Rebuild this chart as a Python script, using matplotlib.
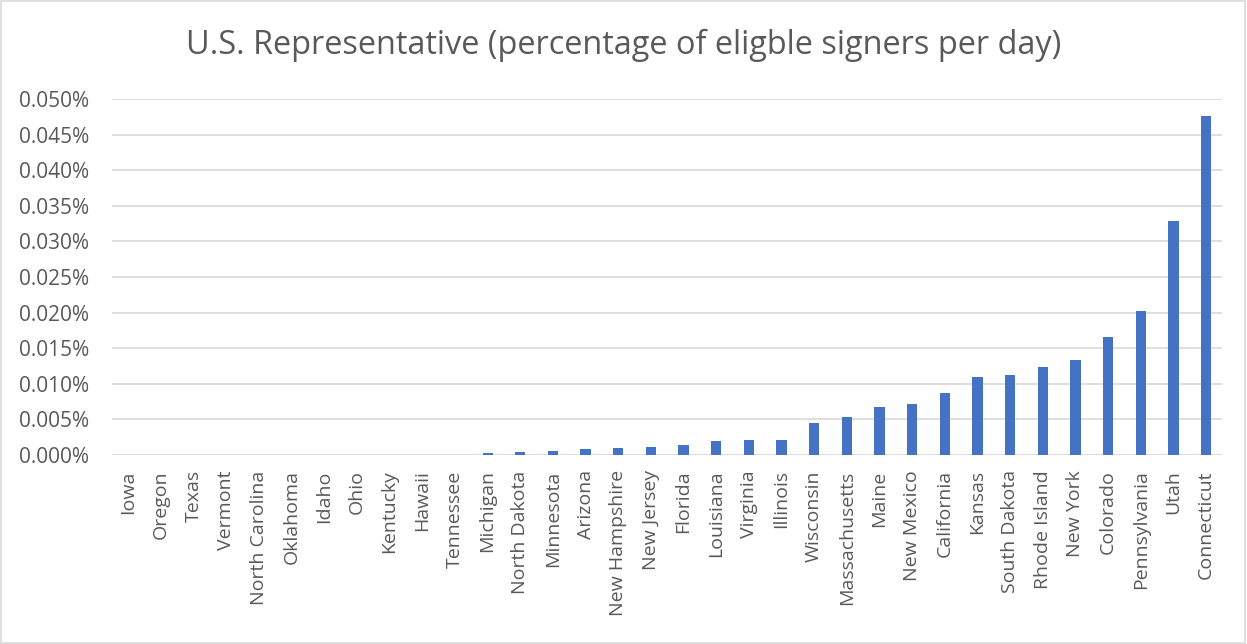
import matplotlib
matplotlib.use("Agg")
import matplotlib.pyplot as plt
from matplotlib.ticker import FuncFormatter, MultipleLocator
from matplotlib.patches import Rectangle

states = ["Iowa", "Oregon", "Texas", "Vermont", "North Carolina", "Oklahoma",
          "Idaho", "Ohio", "Kentucky", "Hawaii", "Tennessee", "Michigan",
          "North Dakota", "Minnesota", "Arizona", "New Hampshire", "New Jersey",
          "Florida", "Louisiana", "Virginia", "Illinois", "Wisconsin",
          "Massachusetts", "Maine", "New Mexico", "California", "Kansas",
          "South Dakota", "Rhode Island", "New York", "Colorado", "Pennsylvania",
          "Utah", "Connecticut"]
# percent of eligible signers per day
rate_pct = [0.0, 0.0, 0.0, 0.0, 0.0, 0.0,
            0.0, 0.0, 0.0, 0.0, 0.0, 0.0003,
            0.0004, 0.0005, 0.0008, 0.0010, 0.0011,
            0.0014, 0.0020, 0.0021, 0.0021, 0.0045,
            0.0054, 0.0068, 0.0071, 0.0087, 0.0110,
            0.0112, 0.0123, 0.0134, 0.0166, 0.0202,
            0.0329, 0.0476]

plt.rcParams["font.family"] = ["Open Sans", "DejaVu Sans"]
text_color = "#595959"

fig = plt.figure(figsize=(12.47, 6.44), dpi=100)
ax = fig.add_axes([0.0898, 0.2935, 0.8905, 0.5528])

x = range(len(states))
ax.bar(x, rate_pct, width=0.31, color="#4472c4", zorder=3)

ax.set_ylim(0, 0.050)
ax.set_xlim(-0.5, len(states) - 0.5)
ax.yaxis.set_major_locator(MultipleLocator(0.005))
ax.yaxis.set_major_formatter(FuncFormatter(lambda v, _: f"{v:.3f}%"))
ax.grid(axis="y", color="#d9d9d9", linewidth=1.2, zorder=0)
ax.set_xticks(list(x))
ax.set_xticklabels(states, rotation=90, fontsize=14, color=text_color)
ax.tick_params(axis="y", labelsize=15, labelcolor=text_color, length=0, pad=16.5)
ax.tick_params(axis="x", length=0, pad=11)
for s in ax.spines.values():
    s.set_visible(False)

fig.text(0.5, 0.93, "U.S. Representative (percentage of eligble signers per day)",
         ha="center", va="center", fontsize=23.4, color=text_color)

fig.patches.append(Rectangle((0.001, 0.002), 0.997, 0.996, transform=fig.transFigure,
                             fill=False, edgecolor="#d9d9d9", linewidth=1.2))

fig.savefig("out.png", dpi=100, facecolor="white")
